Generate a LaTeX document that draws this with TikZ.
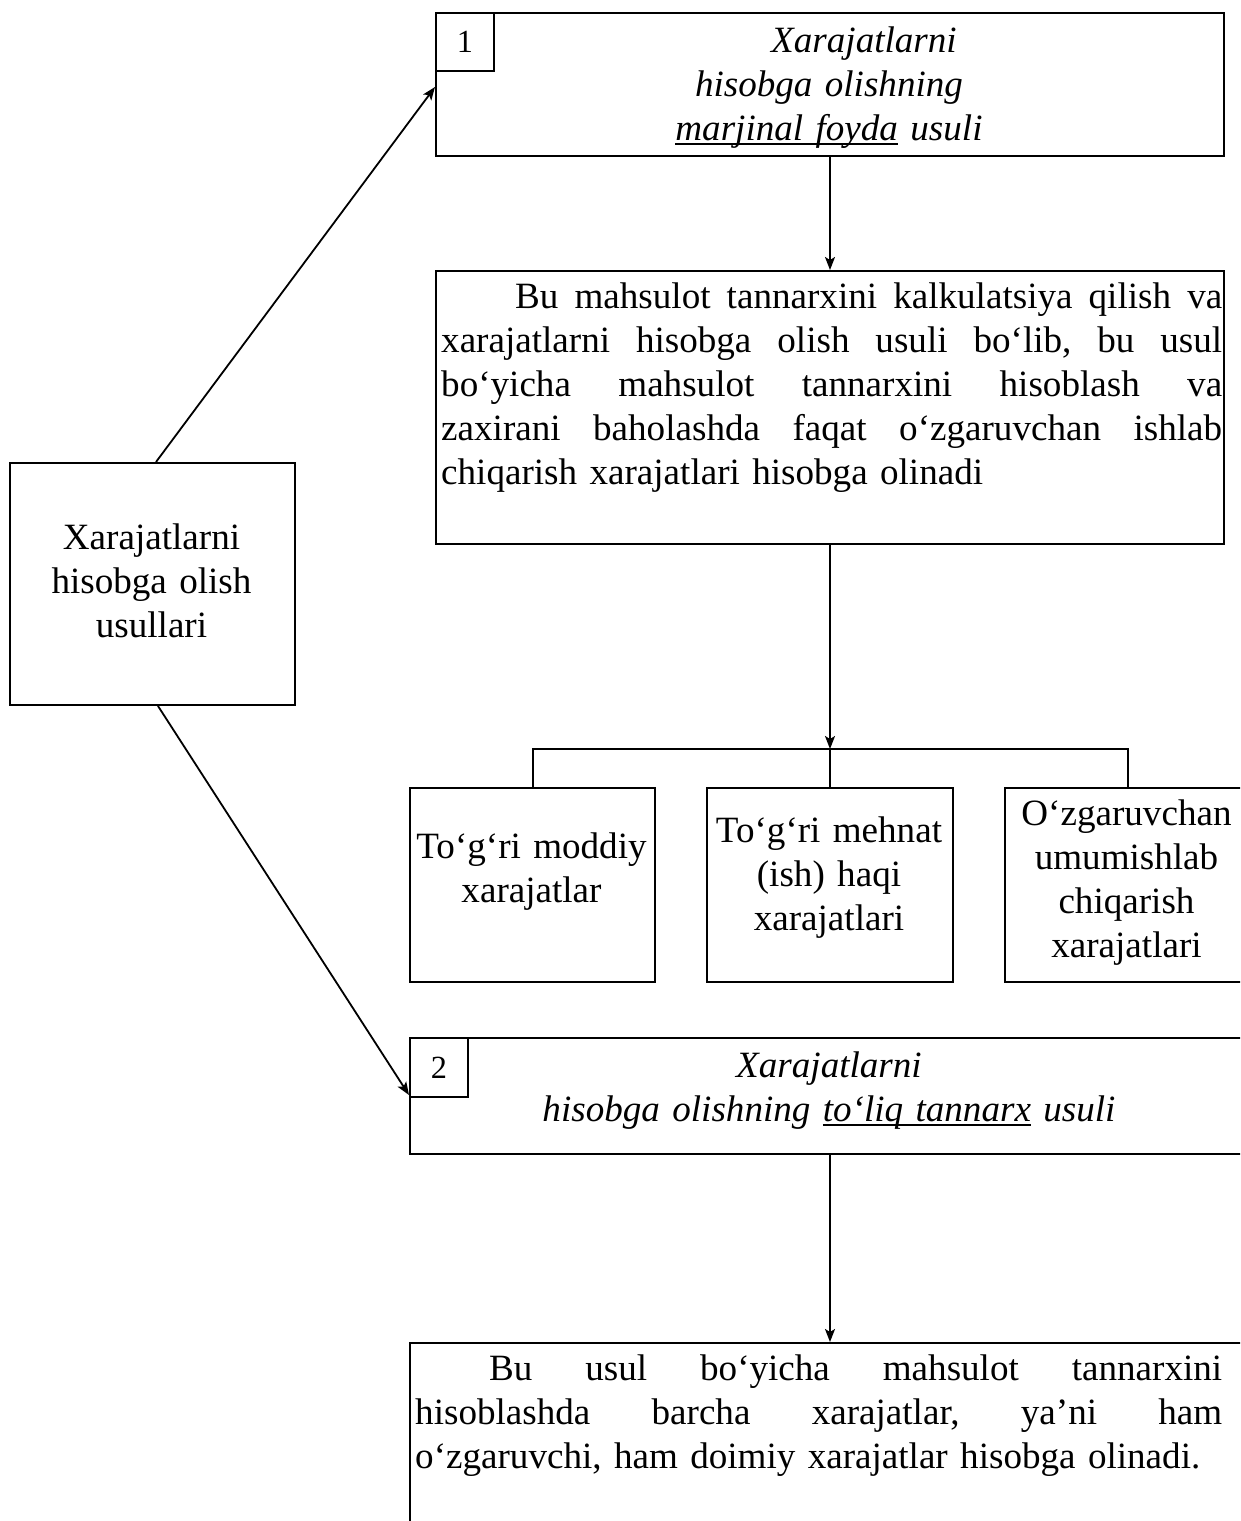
\documentclass[tikz,border=0pt]{standalone}
\usepackage{fontspec}
\setmainfont{Liberation Serif}
\usetikzlibrary{calc,arrows.meta}

% underline drawn through the descenders, as a word processor does
\newsavebox\ulinebox
\newcommand\ulinetext[1]{\leavevmode\sbox\ulinebox{#1}\rlap{\rule[-5pt]{\wd\ulinebox}{1.8pt}}\usebox\ulinebox}
% one fully justified line of the given width
\newcommand\jline[2]{\leavevmode\hbox to #1{\frenchspacing\spaceskip=\fontdimen2\font plus 1fil\relax #2}}

\begin{document}
\begin{tikzpicture}[x=1pt,y=-1pt,
  frame/.style 2 args={draw, line width=2pt, rectangle, inner sep=0pt,
    anchor=north west, minimum width=#1, minimum height=#2},
  body/.style={inner sep=0pt, font=\fontsize{37.1pt}{44pt}\selectfont},
  ibody/.style={inner sep=0pt, font=\fontsize{37.1pt}{44pt}\selectfont\itshape},
  cbody/.style={body, anchor=base, align=center, text width=#1},
  cibody/.style={ibody, anchor=base, align=center, text width=#1},
  jbody/.style={body, anchor=base west, align=left, text width=#1},
  numtext/.style={font=\fontsize{32.3pt}{38pt}\selectfont},
  arr/.style={line width=1.8pt, -{Stealth[length=13pt,width=10pt,inset=3pt]}},
  link/.style={line width=2pt},
  thinlink/.style={line width=1.1pt}]

\useasboundingbox (0,0) rectangle (1240,1521);
\fill[white] (0,0) rectangle (1240,1521);
\clip (0,0) rectangle (1240,1521);

% ---- left: general heading
\node[frame={285pt}{242pt}] (src) at (9,462) {};
\node[cbody=285pt] (srct) at (151.5,549) {Xarajatlarni\\hisobga olish\\usullari};

% ---- method 1: marginal profit
\node[frame={788pt}{143pt}] (m1) at (435,12) {};
\node[frame={58pt}{58pt}, numtext] (n1) at (435,12) {1};
\node[cibody=788pt] (m1t) at (829,52)
  {\hspace*{70pt}Xarajatlarni\\
   hisobga olishning\\
   \ulinetext{marjinal foyda} usuli};

\node[frame={788pt}{273pt}] (d1) at (435,270) {};
\node[jbody=782pt] (d1t) at (441,308)
  {\hspace*{74pt}\jline{707pt}{Bu mahsulot tannarxini kalkulatsiya qilish va}\\
   \jline{781pt}{xarajatlarni hisobga olish usuli bo‘lib, bu usul}\\
   \jline{781pt}{bo‘yicha mahsulot tannarxini hisoblash va}\\
   \jline{781pt}{zaxirani baholashda faqat o‘zgaruvchan ishlab}\\
   chiqarish xarajatlari hisobga olinadi};

% ---- cost components
\node[frame={245pt}{194pt}] (cA) at (409,787) {};
\node[frame={246pt}{194pt}] (cB) at (706,787) {};
\node[frame={245pt}{194pt}] (cC) at (1004,787) {};
\node[cbody=260pt] (cAt) at (531.5,858) {To‘g‘ri moddiy\\xarajatlar};
\node[cbody=260pt] (cBt) at (829,842) {To‘g‘ri mehnat\\(ish) haqi\\xarajatlari};
\node[cbody=260pt] (cCt) at (1126.5,825) {O‘zgaruvchan\\umumishlab\\chiqarish\\xarajatlari};

% ---- method 2: full cost
\node[frame={840pt}{116pt}] (m2) at (409,1037) {};
\node[frame={58pt}{59pt}, numtext] (n2) at (409,1037) {2};
\node[cibody=840pt] (m2t) at (829,1077)
  {Xarajatlarni\\hisobga olishning \ulinetext{to‘liq tannarx} usuli};

\node[frame={840pt}{300pt}] (d2) at (409,1342) {};
\node[jbody=808pt] (d2t) at (415,1380)
  {\hspace*{74pt}\jline{733pt}{Bu usul bo‘yicha mahsulot tannarxini}\\
   \jline{807pt}{hisoblashda barcha xarajatlar, ya’ni ham}\\
   o‘zgaruvchi, ham doimiy xarajatlar hisobga olinadi.};

% ---- connectors
\coordinate (m1in) at ($(m1.north west)+(0,75)$);
\coordinate (m2in) at ($(m2.north west)+(0,58)$);
\coordinate (fork) at ($(d1.south)+(0,204)$);

\draw[arr] ([xshift=3.5pt]src.north) -- (m1in);
\draw[arr] ([xshift=5.5pt]src.south) -- (m2in);
\draw[arr] (m1.south) -- (d1.north);
\draw[arr] (d1.south) -- (fork);
\draw[link] (cA.north) |- (fork) -| (cC.north);
\draw[thinlink] (fork) -- (cB.north);
\draw[arr] (m2.south) -- (d2.north);
\end{tikzpicture}
\end{document}
